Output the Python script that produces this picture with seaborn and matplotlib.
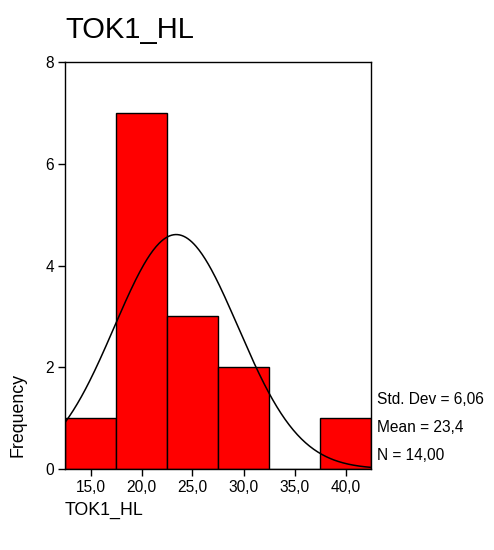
import numpy as np
import pandas as pd
import matplotlib
matplotlib.use("Agg")
import matplotlib.pyplot as plt
import seaborn as sns

# Histogram bins (centres) and frequencies
bin_centers = [15.0, 20.0, 25.0, 30.0, 35.0, 40.0]
frequencies = [1, 7, 3, 2, 0, 1]
bin_width = 5.0

# Summary statistics shown beside the plot
std_dev = 6.06
mean_val = 23.4
n_total = 14.00

x_ticks = [15.0, 20.0, 25.0, 30.0, 35.0, 40.0]
y_ticks = [0, 2, 4, 6, 8]

sns.set_theme(style="white")
plt.rcParams["font.family"] = ["Liberation Sans", "DejaVu Sans"]
plt.rcParams["text.color"] = "black"
plt.rcParams["xtick.color"] = "black"
plt.rcParams["ytick.color"] = "black"
plt.rcParams["xtick.labelcolor"] = "black"
plt.rcParams["ytick.labelcolor"] = "black"

fig = plt.figure(figsize=(4.94, 5.5), dpi=100)
ax = fig.add_axes([65 / 494, 1 - 469 / 550, (371 - 65) / 494, (469 - 62) / 550])

df = pd.DataFrame({"TOK1_HL": bin_centers, "count": frequencies})
lo = bin_centers[0] - bin_width / 2
hi = bin_centers[-1] + bin_width / 2
sns.histplot(data=df, x="TOK1_HL", weights="count", binwidth=bin_width,
             binrange=(lo, hi), ax=ax,
             color="#ff0000", alpha=1.0, edgecolor="black", linewidth=1.0)

# Normal curve scaled to the histogram
xs = np.linspace(lo, hi, 300)
ys = n_total * bin_width / (std_dev * np.sqrt(2 * np.pi)) * np.exp(-0.5 * ((xs - mean_val) / std_dev) ** 2)
sns.lineplot(x=xs, y=ys, ax=ax, color="black", linewidth=1.1)

ax.set_xlim(lo, hi)
ax.set_ylim(0, 8)
ax.set_xticks(x_ticks)
ax.set_xticklabels([f"{v:.1f}".replace(".", ",") for v in x_ticks], fontsize=11.2)
ax.set_yticks(y_ticks)
ax.set_yticklabels([str(v) for v in y_ticks], fontsize=11.2)
ax.tick_params(axis="both", direction="out", length=5, width=1, color="black",
               labelcolor="black", bottom=True, left=True, pad=3)
for s in ax.spines.values():
    s.set_color("black")
    s.set_linewidth(1.0)
ax.set_xlabel("")
ax.set_ylabel("")

fig.text(65 / 494, 1 - 30 / 550, "TOK1_HL", fontsize=21, ha="left", va="center",
         color="black")
fig.text(18 / 494, 1 - 415 / 550, "Frequency", fontsize=12.8, rotation=90,
         ha="center", va="center", color="black")
fig.text(65 / 494, 1 - 510 / 550, "TOK1_HL", fontsize=12.8, ha="left", va="center",
         color="black")

stats = ["Std. Dev = " + f"{std_dev:.2f}".replace(".", ","),
         "Mean = " + f"{mean_val:.1f}".replace(".", ","),
         "N = " + f"{n_total:.2f}".replace(".", ",")]
for i, t in enumerate(stats):
    fig.text(377 / 494, 1 - (400 + 28 * i) / 550, t, fontsize=11.2, ha="left",
             va="center", color="black")

fig.savefig("out.png", dpi=100)
